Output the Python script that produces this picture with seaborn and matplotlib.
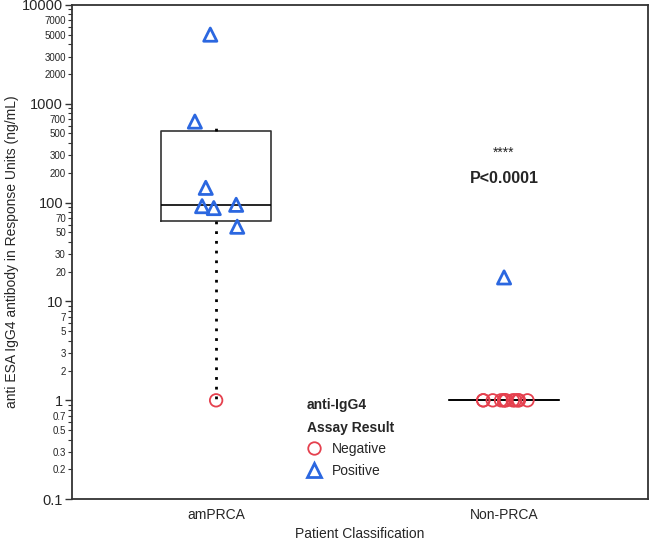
import numpy as np
import pandas as pd
import matplotlib
matplotlib.use('Agg')
import matplotlib.pyplot as plt
import matplotlib.ticker as mticker
from matplotlib.lines import Line2D
import seaborn as sns

# data
groups = ['amPRCA', 'Non-PRCA']
am_positive = [5000, 660, 141, 95, 92, 88, 57]
am_negative = [1]
non_positive = [17.5]
non_negative = [1] * 12
major_ticks = [0.1, 1, 10, 100, 1000, 10000]
minor_labelled = [2, 3, 5, 7]

neg_color = '#e5404e'
pos_color = '#2b67e0'

df = pd.DataFrame({
    'group': ['amPRCA'] * (len(am_positive) + len(am_negative))
             + ['Non-PRCA'] * (len(non_positive) + len(non_negative)),
    'value': am_positive + am_negative + non_positive + non_negative,
    'result': ['Positive'] * len(am_positive) + ['Negative'] * len(am_negative)
              + ['Positive'] * len(non_positive) + ['Negative'] * len(non_negative),
})

sns.set_style('ticks')
plt.rcParams['font.family'] = ['Liberation Sans', 'DejaVu Sans']

fig = plt.figure(figsize=(6.5, 5.42), dpi=100)
ax = fig.add_axes([0.111, 0.079, 0.886, 0.912])


# box stats with the (n+1)p quartile rule
def box_stats(vals):
    v = np.asarray(vals, float)
    q1, med, q3 = np.percentile(v, [25, 50, 75], method='weibull')
    iqr = q3 - q1
    hi = v[v <= q3 + 1.5 * iqr].max()
    lo = v[v >= q1 - 1.5 * iqr].min()
    return dict(med=med, q1=q1, q3=q3, whislo=lo, whishi=hi, fliers=[])


stats = [box_stats(df.loc[df.group == g, 'value']) for g in groups]
ax.bxp(stats, positions=[0, 1], widths=0.38, showcaps=False, showfliers=False,
       boxprops=dict(color='#333333', lw=1.2),
       medianprops=dict(color='black', lw=1.2),
       whiskerprops=dict(color='black', lw=2, linestyle=(0, (1, 2.5))),
       manage_ticks=False, zorder=1)

np.random.seed(7)
neg = df[df.result == 'Negative']
pos = df[df.result == 'Positive']
sns.stripplot(data=neg, x='group', y='value', order=groups, marker='o', size=9,
              jitter=0.085, facecolor='none', edgecolor=neg_color, linewidth=1.3,
              ax=ax, zorder=3)
sns.stripplot(data=pos, x='group', y='value', order=groups, marker='^', size=9.5,
              jitter=0.085, facecolor='none', edgecolor=pos_color, linewidth=2,
              ax=ax, zorder=4)

ax.set_yscale('log')
ax.set_ylim(0.1, 10000)
ax.set_xlim(-0.5, 1.5)

ax.yaxis.set_major_locator(mticker.FixedLocator(major_ticks))
ax.yaxis.set_major_formatter(mticker.FuncFormatter(lambda v, p: f'{v:g}'))
ax.yaxis.set_minor_locator(mticker.LogLocator(base=10, subs=np.arange(2, 10)))


def minor_fmt(v, p):
    lead = round(v / 10 ** np.floor(np.log10(v) + 1e-9))
    return f'{v:g}' if lead in minor_labelled else ''


ax.yaxis.set_minor_formatter(mticker.FuncFormatter(minor_fmt))
ax.tick_params(axis='y', which='major', labelsize=10.5, length=5, width=1,
               color='#333333', pad=1.5)
ax.tick_params(axis='y', which='minor', labelsize=7, length=3, width=0.8,
               color='#333333', pad=1.5)
ax.tick_params(axis='x', labelsize=10, length=0, pad=6)

for s in ax.spines.values():
    s.set_visible(True)
    s.set_color('#333333')
    s.set_linewidth(1.3)

ax.set_xlabel('Patient Classification', fontsize=10, labelpad=4)
ax.set_ylabel('anti ESA IgG4 antibody in Response Units (ng/mL)', fontsize=10, labelpad=2)

ax.text(1, 320, '****', ha='center', va='center', fontsize=10)
ax.text(1, 175, 'P<0.0001', ha='center', va='center', fontsize=11.5, fontweight='bold')

handles = [Line2D([], [], ls='none', marker='o', ms=9, mfc='none', mec=neg_color, mew=1.3),
           Line2D([], [], ls='none', marker='^', ms=9.5, mfc='none', mec=pos_color, mew=2)]
leg = ax.legend(handles, ['Negative', 'Positive'], title='anti-IgG4\nAssay Result',
                frameon=False, loc='upper left', bbox_to_anchor=(0.398, 0.215),
                fontsize=10, title_fontproperties={'weight': 'bold', 'size': 10},
                handletextpad=0.8, handlelength=1.0, labelspacing=0.55,
                alignment='left', borderaxespad=0)
leg.get_title().set_linespacing(1.75)

plt.savefig('out.png', dpi=100)
